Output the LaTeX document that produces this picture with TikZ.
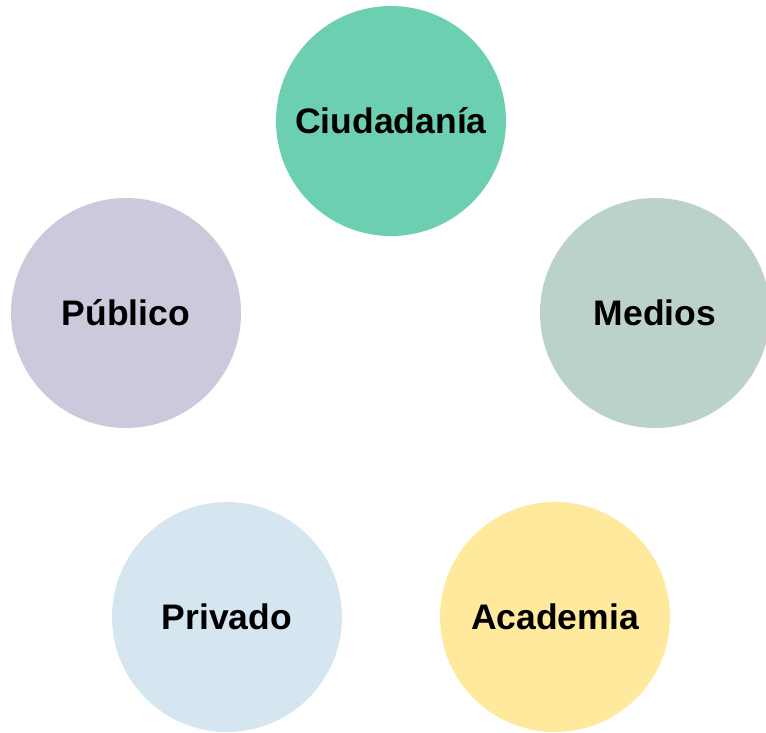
\documentclass[tikz,border=0pt]{standalone}
\usepackage{fontspec}
\setmainfont{Liberation Sans}
\usepackage{tikz}
\usetikzlibrary{calc}
\definecolor{verde}{HTML}{6DCFB1}
\definecolor{lila}{HTML}{CBCADD}
\definecolor{gris}{HTML}{BBD2CA}
\definecolor{celeste}{HTML}{D5E6F0}
\definecolor{amarillo}{HTML}{FEE99C}
\tikzset{
    actor/.style={circle,minimum size=230pt,inner sep=0pt,font=\fontsize{35.5}{36}\selectfont\bfseries}
}

\begin{document}
\begin{tikzpicture}[x=1pt,y=-1pt]
\useasboundingbox (0,0) rectangle (766,732); % frame

\node[actor,fill=verde] (C) at (391,121) {Ciudadanía}; % top
\node[actor,fill=lila] (P) at (126,313) {Público}; % left
\node[actor,fill=gris] (M) at (655,313) {Medios}; % right
\node[actor,fill=celeste] (V) at (227,617) {Privado}; % bottom left
\node[actor,fill=amarillo] (A) at (555,617) {Academia}; % bottom right
\end{tikzpicture}
\end{document}
